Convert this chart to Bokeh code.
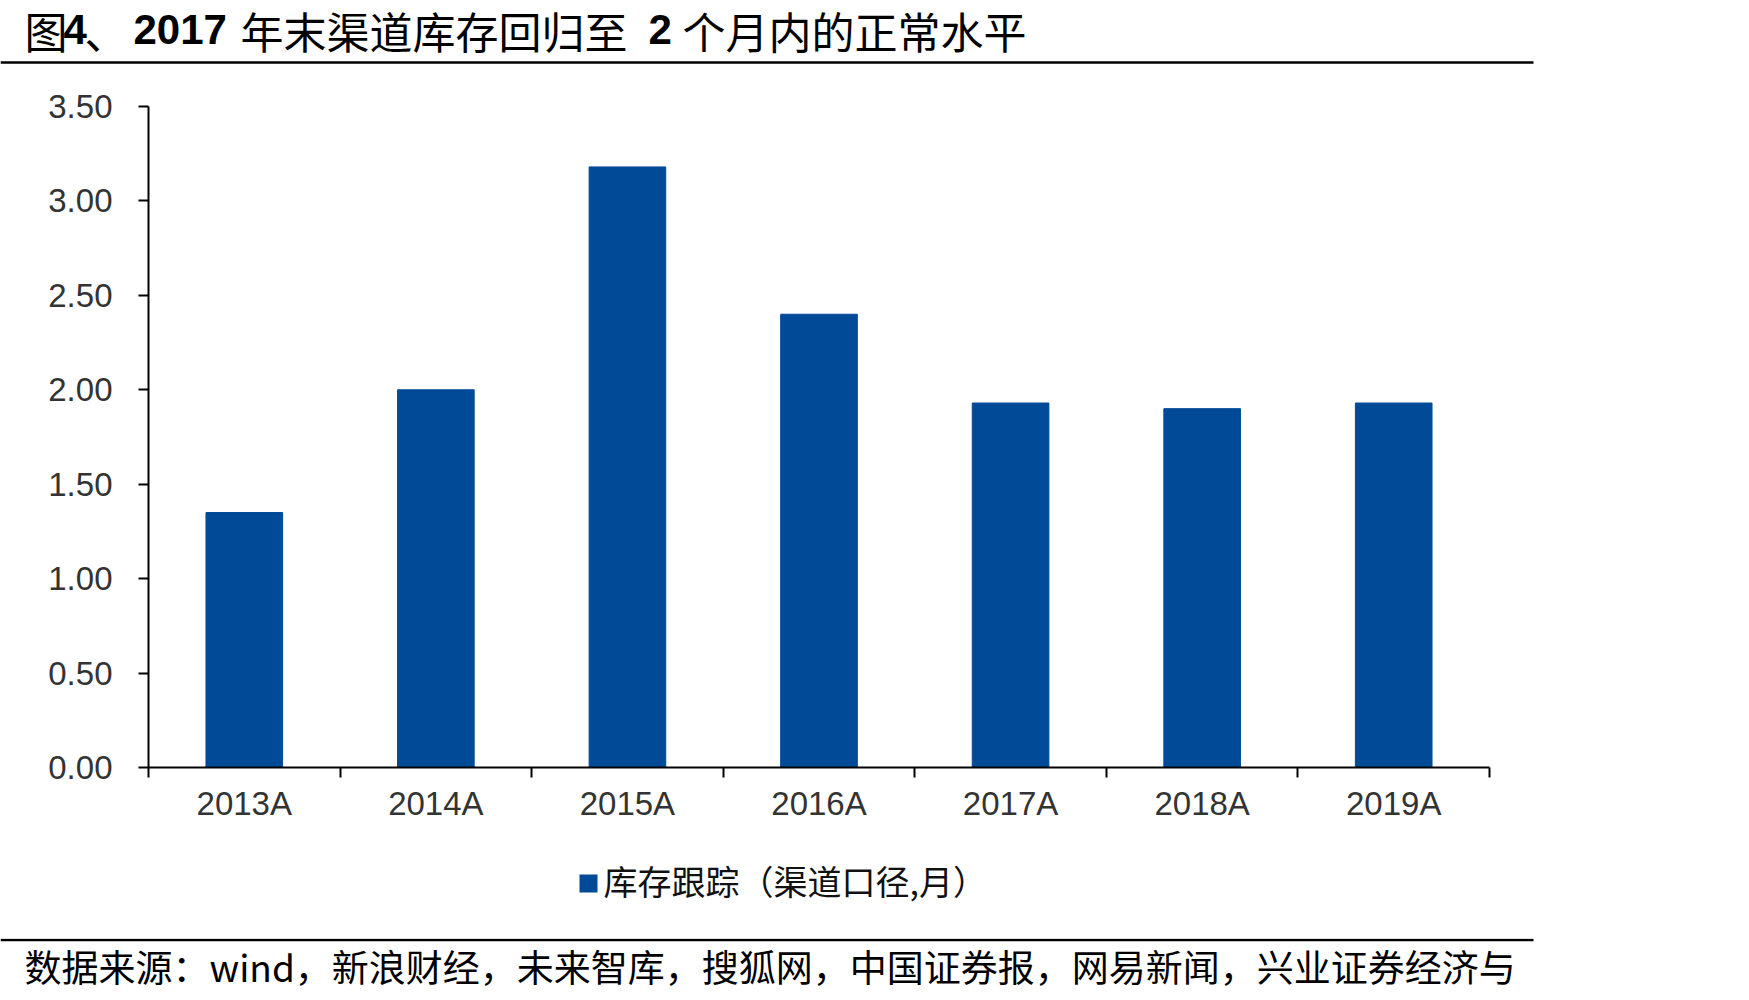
from bokeh.plotting import figure
from bokeh.layouts import column
from bokeh.models import Range1d, FixedTicker, PrintfTickFormatter, BoxAnnotation
from bokeh.core.properties import value
from bokeh.embed import file_html
from bokeh.resources import INLINE

# Channel inventory, in months of sales
categories = ["2013A", "2014A", "2015A", "2016A", "2017A", "2018A", "2019A"]
inventory_months = [1.35, 2.00, 3.18, 2.40, 1.93, 1.90, 1.93]
y_ticks = [0.0, 0.5, 1.0, 1.5, 2.0, 2.5, 3.0, 3.5]
series_name = "库存跟踪（渠道口径,月）"
source_note = "数据来源：wind，新浪财经，未来智库，搜狐网，中国证券报，网易新闻，兴业证券经济与"

BAR_COLOR = "#004A97"
CJK = "Noto Sans CJK SC"
LATIN = "Liberation Sans"
W = 1749


def strip(height):
    """A plain pixel-space figure (y grows downward) for heading, key and source line."""
    f = figure(width=W, height=height, output_backend="svg", toolbar_location=None,
               x_range=Range1d(0, W), y_range=Range1d(height, 0),
               x_axis_location=None, y_axis_location=None,
               min_border=0, min_border_left=0, min_border_right=0,
               min_border_top=0, min_border_bottom=0, frame_align=False)
    f.outline_line_color = None
    f.grid.visible = False
    f.background_fill_color = "white"
    f.border_fill_color = "white"
    return f


# ---- heading: CJK text regular, numerals bold, rule underneath
head = strip(64)
cjk_parts = [("图", 24), ("、", 84), ("年末渠道库存回归至", 240), ("个月内的正常水平", 682)]
num_parts = [("4", 63), ("2017", 133), ("2", 648)]
head.text(x=[x for _, x in cjk_parts], y=[29] * len(cjk_parts),
          text=[t for t, _ in cjk_parts], text_font=value(CJK), text_font_size="43px",
          text_baseline="middle", text_align="left", text_color="black")
head.text(x=[x for _, x in num_parts], y=[29] * len(num_parts),
          text=[t for t, _ in num_parts], text_font=value(LATIN), text_font_style="bold",
          text_font_size="42px", text_baseline="middle", text_align="left",
          text_color="black")
head.segment(x0=[0], y0=[62], x1=[1533], y1=[62], line_color="black", line_width=2.5)

# ---- bar chart
p = figure(width=W, height=766, output_backend="svg", toolbar_location=None,
           x_range=Range1d(0, len(categories)), y_range=Range1d(0, 3.5),
           min_border_left=148, min_border_right=260,
           min_border_top=42, min_border_bottom=63, frame_align=False)
p.outline_line_color = None
p.grid.visible = False
p.background_fill_color = "white"
p.border_fill_color = "white"

centers = [i + 0.5 for i in range(len(categories))]
bars = p.vbar(x=centers, top=inventory_months, width=0.4,
              fill_color=BAR_COLOR, line_color=BAR_COLOR)

# x axis: labels at category centres, ticks on category boundaries
xa = p.xaxis[0]
xa.ticker = FixedTicker(ticks=centers, minor_ticks=list(range(len(categories) + 1)))
xa.major_label_overrides = {c: lab for c, lab in zip(centers, categories)}
xa.major_tick_in = 0
xa.major_tick_out = 0
xa.minor_tick_in = 0
xa.minor_tick_out = 10
xa.minor_tick_line_color = "black"
xa.minor_tick_line_width = 2
xa.axis_line_color = "black"
xa.axis_line_width = 2
xa.major_label_standoff = 7
xa.major_label_text_font = LATIN
xa.major_label_text_font_size = "33px"
xa.major_label_text_color = "#333333"

ya = p.yaxis[0]
ya.ticker = FixedTicker(ticks=y_ticks)
ya.formatter = PrintfTickFormatter(format="%.2f")
ya.major_tick_in = 0
ya.major_tick_out = 10
ya.major_tick_line_color = "black"
ya.major_tick_line_width = 2
ya.minor_tick_line_color = None
ya.axis_line_color = "black"
ya.axis_line_width = 2
ya.major_label_standoff = 26
ya.major_label_text_font = LATIN
ya.major_label_text_font_size = "33px"
ya.major_label_text_color = "#333333"

# ---- series key: swatch in the bar colour plus its label
key = strip(108)
key.add_layout(BoxAnnotation(left=579, right=597, top=44, bottom=62,
                             fill_color=BAR_COLOR, fill_alpha=1, line_color=None))
key.text(x=[603], y=[50], text=[series_name], text_font=value(CJK),
         text_font_size="34px", text_baseline="middle", text_align="left",
         text_color="#111111")

# ---- source line with rule above
foot = strip(62)
foot.segment(x0=[0], y0=[1.5], x1=[1533], y1=[1.5], line_color="black", line_width=2.5)
foot.text(x=[24], y=[27], text=[source_note], text_font=value(CJK), text_font_size="37px",
          text_baseline="middle", text_align="left", text_color="black")

page = column(head, p, key, foot, spacing=0)
open("out.html", "w").write(file_html(page, INLINE))
